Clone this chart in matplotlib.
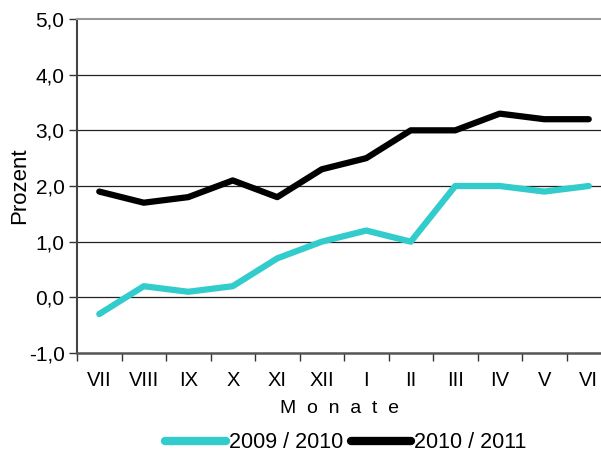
import matplotlib.pyplot as plt
from matplotlib.ticker import FuncFormatter

plt.rcParams['font.family'] = ['Liberation Sans', 'DejaVu Sans']

months = ['VII', 'VIII', 'IX', 'X', 'XI', 'XII', 'I', 'II', 'III', 'IV', 'V', 'VI']
s_0910 = [-0.3, 0.2, 0.1, 0.2, 0.7, 1.0, 1.2, 1.0, 2.0, 2.0, 1.9, 2.0]
s_1011 = [1.9, 1.7, 1.8, 2.1, 1.8, 2.3, 2.5, 3.0, 3.0, 3.3, 3.2, 3.2]

fig = plt.figure(figsize=(6.01, 4.57), dpi=100)
ax = fig.add_axes([77 / 601, 1 - 353 / 457, 534 / 601, 334 / 457])

x = list(range(len(months)))
ax.plot(x, s_0910, color='#33CCCC', lw=4.5, solid_capstyle='round', label='2009 / 2010', zorder=3)
ax.plot(x, s_1011, color='black', lw=4.5, solid_capstyle='round', label='2010 / 2011', zorder=3)

ax.set_xlim(-0.5, len(months) - 0.5)
ax.set_ylim(-1, 5)
ax.set_yticks(range(-1, 6))
ax.yaxis.set_major_formatter(FuncFormatter(lambda v, p: f'{v:.1f}'.replace('.', ',')))
for yv in range(0, 5):
    ax.axhline(yv, color='#222222', lw=0.9, zorder=1)

# ticks at category boundaries, labels at centers
ax.set_xticks([i - 0.5 for i in range(len(months) + 1)])
ax.set_xticklabels([])
ax.set_xticks(x, minor=True)
ax.set_xticklabels(months, minor=True)
ax.tick_params(axis='x', which='minor', length=0, pad=13, labelsize=14.5)
ax.tick_params(axis='x', which='major', length=6, width=1, color='#333333')
ax.tick_params(axis='y', length=6, width=1, color='#333333', labelsize=15, pad=3)

ax.spines['top'].set_color('#999999')
ax.spines['top'].set_linewidth(1.5)
ax.spines['right'].set_visible(False)
ax.spines['left'].set_color('#444444')
ax.spines['left'].set_linewidth(1.5)
ax.spines['bottom'].set_color('#555555')
ax.spines['bottom'].set_linewidth(1.8)

ax.set_xlabel('M  o  n  a  t  e', fontsize=14)
ax.xaxis.set_label_coords((340 - 77) / 534, -0.14)
ax.set_ylabel('Prozent', fontsize=16)
ax.yaxis.set_label_coords(-0.088, 0.5)

leg = fig.legend(loc='center', bbox_to_anchor=(346 / 601, 1 - 443 / 457), ncol=2, frameon=False,
                 fontsize=15.5, handlelength=2.8, handletextpad=0.15, columnspacing=0.35,
                 borderpad=0, borderaxespad=0)
for ln in leg.get_lines():
    ln.set_linewidth(6)

fig.savefig('out.png', dpi=100)
